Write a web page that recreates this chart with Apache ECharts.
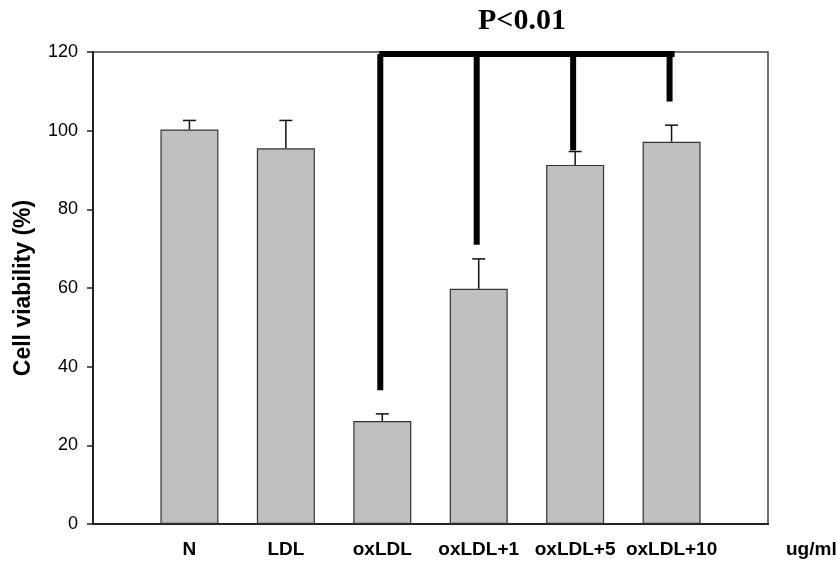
<!DOCTYPE html>
<html>
<head>
<meta charset="utf-8">
<script src="https://cdn.jsdelivr.net/npm/echarts@6/dist/echarts.min.js"></script>
<style>
  html, body { margin: 0; padding: 0; background: #fff; }
  #main { width: 836px; height: 561px; }
</style>
</head>
<body>
<div id="main"></div>
<script>
var categories = ['', 'N', 'LDL', 'oxLDL', 'oxLDL+1', 'oxLDL+5', 'oxLDL+10', ''];
var viability = ['-', 100.3, 95.5, 26.2, 59.8, 91.3, 97.2, '-'];
var errorTop = ['-', 102.6, 102.6, 28.0, 67.4, 94.7, 101.4, '-'];
var yTicks = [0, 20, 40, 60, 80, 100, 120];

// significance bracket: which bars, how far each leg reaches down
var bracketBars = [3, 4, 5, 6];
var bracketLegEnds = [34, 71, 95, 107.4];
var bracketTop = 119.5;

var myChart = echarts.init(document.getElementById('main'));

var errData = [];
for (var i = 0; i < categories.length; i++) {
  if (viability[i] !== '-') errData.push([i, viability[i], errorTop[i]]);
}
var legData = [];
for (var j = 0; j < bracketBars.length; j++) {
  legData.push([bracketBars[j], bracketLegEnds[j], bracketTop]);
}

var option = {
  animation: false,
  title: {
    text: 'P<0.01',
    left: 473,
    top: 1,
    textStyle: { fontFamily: 'Liberation Serif', fontWeight: 'bold', fontSize: 30, color: '#000' }
  },
  grid: {
    left: 93, right: 68, top: 52, bottom: 37,
    outerBoundsMode: 'none',
    show: true, borderColor: '#444', borderWidth: 1.5
  },
  xAxis: {
    type: 'category',
    data: categories,
    boundaryGap: false,
    axisLine: { lineStyle: { color: '#222', width: 2 } },
    axisTick: { show: false },
    axisLabel: {
      margin: 16, color: '#000', fontSize: 19, fontWeight: 'bold',
      fontFamily: 'Liberation Sans', interval: 0, hideOverlap: false
    },
    name: 'ug/ml',
    nameLocation: 'end',
    nameGap: 18,
    nameTextStyle: {
      color: '#000', fontSize: 19, fontWeight: 'bold', fontFamily: 'Liberation Sans',
      verticalAlign: 'top', padding: [16, 0, 0, 0]
    },
    splitLine: { show: false }
  },
  yAxis: {
    type: 'value',
    min: 0, max: 120, interval: 20,
    axisLine: { show: true, lineStyle: { color: '#222', width: 2 } },
    axisTick: { show: true, length: 6, lineStyle: { color: '#222', width: 1.5 } },
    axisLabel: {
      margin: 15, color: '#000', fontSize: 18, fontFamily: 'Liberation Sans',
      formatter: function (v) { return yTicks.indexOf(v) >= 0 ? String(v) : ''; }
    },
    splitLine: { show: false },
    name: 'Cell viability (%)',
    nameLocation: 'middle',
    nameGap: 58,
    nameTextStyle: { color: '#000', fontSize: 23, fontWeight: 'bold', fontFamily: 'Liberation Sans' }
  },
  series: [
    {
      type: 'bar',
      data: viability,
      barWidth: 58,
      itemStyle: { color: '#c0c0c0', borderColor: '#333', borderWidth: 1.2 }
    },
    {
      type: 'custom',
      data: errData,
      z: 3,
      renderItem: function (params, api) {
        var top = api.coord([api.value(0), api.value(1)]);
        var cap = api.coord([api.value(0), api.value(2)]);
        var st = { stroke: '#111', lineWidth: 1.5 };
        return {
          type: 'group',
          children: [
            { type: 'line', shape: { x1: top[0], y1: top[1], x2: cap[0], y2: cap[1] }, style: st },
            { type: 'line', shape: { x1: cap[0] - 6.5, y1: cap[1], x2: cap[0] + 6.5, y2: cap[1] }, style: st }
          ]
        };
      }
    },
    {
      type: 'custom',
      data: legData,
      z: 4,
      renderItem: function (params, api) {
        var low = api.coord([api.value(0), api.value(1)]);
        var high = api.coord([api.value(0), api.value(2)]);
        return {
          type: 'line',
          shape: { x1: low[0] - 2, y1: low[1], x2: high[0] - 2, y2: high[1] },
          style: { stroke: '#000', lineWidth: 6 }
        };
      }
    },
    {
      type: 'line',
      data: [[bracketBars[0], bracketTop], [bracketBars[bracketBars.length - 1], bracketTop]],
      symbol: 'none',
      z: 5,
      lineStyle: { color: '#000', width: 6, cap: 'square' }
    }
  ]
};

myChart.setOption(option);
</script>
</body>
</html>
